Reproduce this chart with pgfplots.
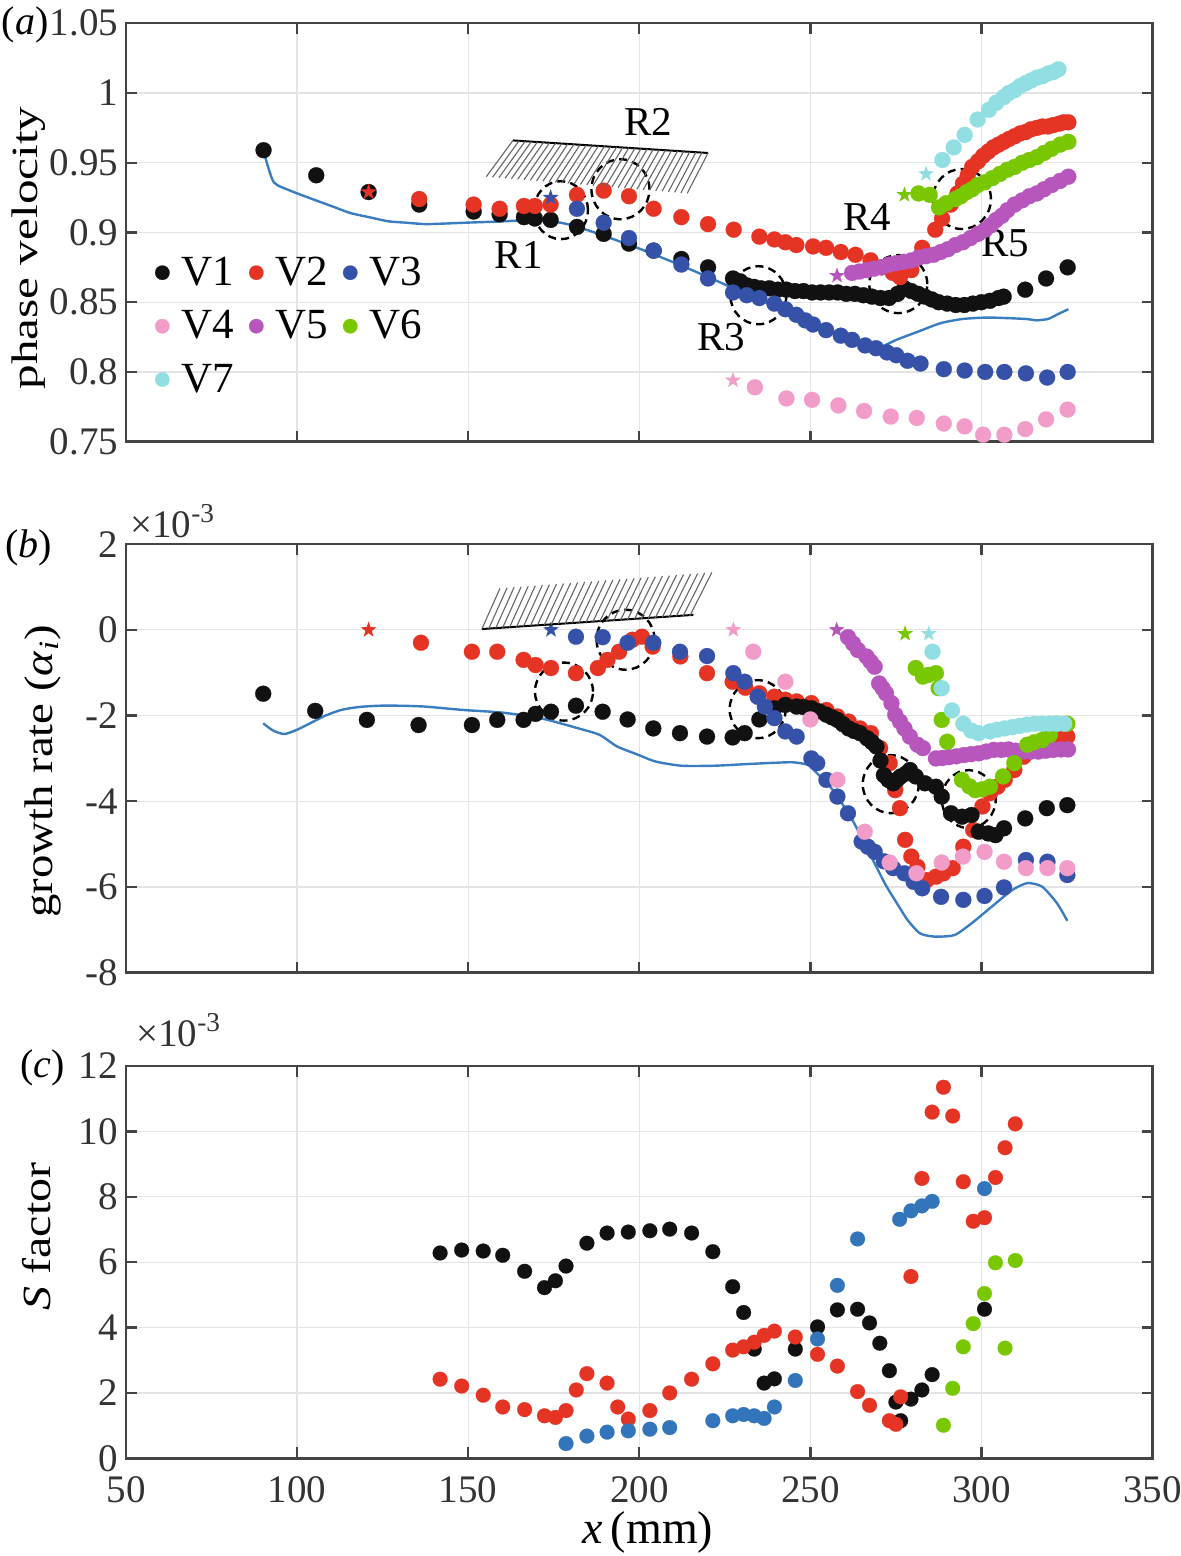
\documentclass[border=0pt]{standalone}
\usepackage{pgfplots}
\pgfplotsset{compat=1.18}
\usepackage{graphicx}
\usepackage{fontspec}
\setmainfont{Liberation Serif}
\usetikzlibrary{calc}

\definecolor{cA}{HTML}{111111}
\definecolor{cB}{HTML}{E63424}
\definecolor{cC}{HTML}{3552A8}
\definecolor{cD}{HTML}{F29CC9}
\definecolor{cE}{HTML}{B757BE}
\definecolor{cF}{HTML}{79C700}
\definecolor{cG}{HTML}{92DFE3}
\definecolor{cL}{HTML}{3A7DC0}
\definecolor{cS}{HTML}{3375BA}
\definecolor{gridc}{HTML}{E4E4E4}
\definecolor{axc}{HTML}{444444}
\definecolor{tickc}{HTML}{333333}

\pgfdeclareplotmark{fstar}{%
 \pgfpathmoveto{\pgfpointpolar{90}{\pgfplotmarksize}}%
 \pgfpathlineto{\pgfpointpolar{126}{0.4\pgfplotmarksize}}%
 \pgfpathlineto{\pgfpointpolar{162}{\pgfplotmarksize}}%
 \pgfpathlineto{\pgfpointpolar{198}{0.4\pgfplotmarksize}}%
 \pgfpathlineto{\pgfpointpolar{234}{\pgfplotmarksize}}%
 \pgfpathlineto{\pgfpointpolar{270}{0.4\pgfplotmarksize}}%
 \pgfpathlineto{\pgfpointpolar{306}{\pgfplotmarksize}}%
 \pgfpathlineto{\pgfpointpolar{342}{0.4\pgfplotmarksize}}%
 \pgfpathlineto{\pgfpointpolar{18}{\pgfplotmarksize}}%
 \pgfpathlineto{\pgfpointpolar{54}{0.4\pgfplotmarksize}}%
 \pgfpathclose\pgfusepathqfill}

\tikzset{
 circ/.style={dash pattern=on 4pt off 2.6pt, line width=1.2pt, black},
 rlab/.style={font=\fontsize{20.5}{24}\selectfont, black},
 plab/.style={font=\fontsize{20}{24}\selectfont, black, anchor=east, inner sep=0pt},
 expo/.style={font=\fontsize{19.5}{22}\selectfont, text=tickc, anchor=base west, inner sep=0pt},
}

\pgfplotsset{
 base/.style={
  scale only axis, width=513.25pt,
  xmin=50, xmax=350, xtick={50,100,150,200,250,300,350},
  grid=major, major grid style={line width=0.6pt, draw=gridc},
  axis line style={line width=1.2pt, draw=axc},
  tick align=inside, major tick length=5.5pt,
  tick style={line width=1.2pt, draw=axc},
  tick label style={font=\fontsize{19.5}{22}\selectfont, text=tickc},
  yticklabel style={inner xsep=3.8pt, inner ysep=0.5pt},
  xticklabel style={inner ysep=0.5pt, yshift=-8.5pt},
  clip=false,
 },
 dots/.style={only marks, mark=*, mark size=#1, mark options={solid, line width=0.1pt}},
 star/.style={only marks, mark=fstar, mark size=4.2pt, forget plot},
}

\begin{document}
\begin{tikzpicture}
\useasboundingbox (0,0) rectangle (590.5pt,778pt);

% ---------------- (a) ----------------
\begin{axis}[base, at={(63pt,557.15pt)}, anchor=south west, height=209.2pt,
  ymin=0.75, ymax=1.05,
  ytick={0.75,0.8,0.85,0.9,0.95,1,1.05},
  yticklabels={0.75,0.8,0.85,0.9,0.95,1,1.05},
  xticklabels={,,,,,,},
  ylabel={\scalebox{1.33}[1]{phase velocity}},
  ylabel style={font=\fontsize{18.5}{22}\selectfont, at={(axis description cs:-0.0867,0.463)}, anchor=base},
  legend columns=3,
  legend style={at={(axis description cs:0.028,0.452)}, anchor=north west, draw=none, fill=none,
    inner sep=0pt, font=\fontsize{21.5}{24}\selectfont, row sep=7pt,
    /tikz/every odd column/.append style={column sep=4pt},
    /tikz/every even column/.append style={column sep=5.5pt}},
  legend image code/.code={\draw[mark size=3.6pt] plot coordinates {(0pt,0pt)};},
]
\addplot[cL, line width=1.2pt, smooth, tension=0.4, forget plot] coordinates {
(90.7,0.954)(93.2,0.936)(98,0.930)(104.4,0.924)(110,0.919)(115.5,0.914)(121,0.911)(126.7,0.908)(132,0.907)(137.9,0.906)(149.1,0.907)(160.3,0.908)(169.2,0.909)(177,0.907)(182,0.904)(188.1,0.899)(199.4,0.889)(210.6,0.878)(221.1,0.867)(232,0.855)(242.7,0.844)(253,0.832)(264.3,0.820)(268,0.817)(270.8,0.818)(275.1,0.823)(281.6,0.829)(288.1,0.835)(294.6,0.838)(302.2,0.839)(312.9,0.838)(316,0.837)(319.5,0.838)(322,0.841)(325.4,0.845)};
\addplot[dots=4pt, cA] coordinates {
(90.2,0.959)(105.6,0.941)(120.9,0.929)(135.7,0.920)(151.6,0.915)(159.2,0.913)(166.3,0.911)(169.5,0.910)(174.1,0.909)(181.8,0.904)(189.6,0.899)(197.0,0.892)(204.2,0.887)(212.3,0.881)(220.1,0.875)(227.4,0.867)(229.5,0.865)(231.5,0.862)(233.5,0.861)(235.5,0.860)(238,0.860)(240.5,0.859)(243,0.859)(245.5,0.858)(248,0.858)(250.5,0.857)(253,0.857)(255.5,0.857)(258,0.857)(260.5,0.856)(263,0.856)(265.5,0.855)(268,0.854)(270.5,0.853)(273,0.853)(275.5,0.856)(277.5,0.860)(279.5,0.858)(281.5,0.856)(283.5,0.854)(285.5,0.852)(287.5,0.850)(290,0.849)(292.5,0.848)(295,0.848)(297.5,0.849)(300,0.850)(302.5,0.851)(305,0.853)(306.5,0.854)(312.8,0.859)(318.9,0.867)(325.2,0.875)};
\addlegendentry{V1}
\addplot[dots=4pt, cB] coordinates {
(135.7,0.924)(151.6,0.920)(159.2,0.917)(166.3,0.919)(169.5,0.919)(174.1,0.920)(181.8,0.927)(189.6,0.930)(197.0,0.926)(204.2,0.917)(212.3,0.911)(220.1,0.906)(227.6,0.902)(235.1,0.897)(239.5,0.895)(242.7,0.893)(245.9,0.891)(250.8,0.890)(254.6,0.889)(258.9,0.886)(263.2,0.884)(267.6,0.880)(270.8,0.875)(274.1,0.871)(276.2,0.868)(279.5,0.873)(282.7,0.889)(286.5,0.902)(288.5,0.910)(291,0.920)(293,0.928)(294.6,0.935)(296,0.941)(297.3,0.947)(299,0.951)(300.5,0.955)(302,0.958)(303.5,0.961)(305,0.963)(306.5,0.965)(308,0.967)(309.7,0.969)(311.3,0.971)(312.9,0.972)(314.5,0.974)(316.2,0.975)(317.8,0.976)(319.5,0.976)(321,0.977)(322.7,0.978)(324,0.979)(325.4,0.979)};
\addlegendentry{V2}
\addplot[dots=4pt, cC] coordinates {
(181.8,0.917)(189.6,0.907)(197.0,0.896)(204.2,0.887)(212.3,0.877)(220.1,0.867)(227.4,0.857)(231.4,0.855)(235.1,0.853)(239.5,0.849)(242.7,0.845)(245.9,0.841)(248.5,0.837)(250.8,0.834)(254.6,0.830)(258.9,0.826)(262.2,0.823)(266,0.819)(269.2,0.817)(272.4,0.814)(275.1,0.812)(278.4,0.808)(282.2,0.806)(289,0.802)(295.1,0.801)(301.1,0.800)(306.7,0.800)(313,0.799)(319.2,0.796)(325.2,0.800)};
\addlegendentry{V3}
\addplot[dots=4pt, cD] coordinates {
(233.8,0.789)(243,0.781)(250.5,0.780)(258.2,0.776)(265.7,0.772)(273.5,0.768)(281.1,0.767)(289,0.763)(295.1,0.761)(300.5,0.755)(306.7,0.755)(312.8,0.759)(318.9,0.766)(325.2,0.773)};
\addlegendentry{V4}
\addplot[dots=4pt, cE] coordinates {
(262.2,0.871)(264.3,0.872)(266.5,0.873)(268.6,0.874)(270.8,0.875)(273,0.877)(275.1,0.878)(277.3,0.879)(279.5,0.880)(281.6,0.882)(283.8,0.883)(286,0.884)(288.1,0.886)(290.2,0.888)(292.4,0.891)(294.6,0.893)(296.8,0.896)(299,0.899)(301.1,0.902)(302.7,0.905)(304.3,0.909)(306,0.912)(307.6,0.916)(309.7,0.920)(311.9,0.923)(314,0.926)(316.2,0.928)(318.3,0.931)(320.5,0.934)(323,0.937)(325.4,0.940)};
\addlegendentry{V5}
\addplot[dots=4pt, cF] coordinates {
(281.6,0.928)(284.9,0.927)(287.6,0.918)(289.7,0.921)(292.4,0.924)(294,0.926)(295.7,0.929)(297.3,0.931)(298.9,0.934)(301,0.936)(303.2,0.939)(305.4,0.942)(307.6,0.945)(309.7,0.947)(311.9,0.950)(314,0.952)(316.2,0.954)(318.3,0.957)(320.5,0.960)(323,0.963)(325.4,0.965)};
\addlegendentry{V6}
\addplot[dots=4pt, cG] coordinates {
(288.6,0.952)(291.9,0.961)(295.1,0.970)(298.9,0.981)(302.2,0.988)(304.3,0.993)(306.5,0.997)(308,1.000)(309.7,1.002)(311.3,1.005)(312.9,1.007)(314.5,1.009)(316.2,1.011)(317.8,1.012)(319.5,1.014)(321,1.015)(322.5,1.017)};
\addlegendentry{V7}
\addplot[star, cB] coordinates {(120.9,0.929)};
\addplot[star, cC] coordinates {(174.1,0.925)};
\addplot[star, cD] coordinates {(227.4,0.794)};
\addplot[star, cE] coordinates {(257.8,0.869)};
\addplot[star, cF] coordinates {(277.5,0.927)};
\addplot[star, cG] coordinates {(283.8,0.942)};
\coordinate (hA) at (axis cs:163.1,0.966);
\coordinate (hB) at (axis cs:220.1,0.957);
\coordinate (hC) at (axis cs:155.3,0.940);
\coordinate (hD) at (axis cs:214.0,0.928);
\draw[circ] (axis cs:177.1,0.916) ellipse[x radius=13.5pt, y radius=14.5pt];
\draw[circ] (axis cs:194.5,0.931) ellipse[x radius=14.5pt, y radius=15pt];
\draw[circ] (axis cs:234.8,0.855) ellipse[x radius=14pt, y radius=14.5pt];
\draw[circ] (axis cs:275.7,0.863) ellipse[x radius=14.5pt, y radius=14.5pt];
\draw[circ] (axis cs:294.3,0.924) ellipse[x radius=14.5pt, y radius=15pt];
\node[rlab] at (axis cs:164.8,0.884) {R1};
\node[rlab] at (axis cs:202.6,0.979) {R2};
\node[rlab] at (axis cs:224.0,0.825) {R3};
\node[rlab] at (axis cs:266.6,0.911) {R4};
\node[rlab] at (axis cs:307.0,0.892) {R5};
\node[plab] at (axis description cs:-0.075,0.996) {(\textit{a})};
\end{axis}
\draw[line width=1pt, black] (hA) -- (hB);
\foreach \i in {0,...,32} \draw[line width=0.55pt, black!60] ($(hC)!{\i/32}!(hD)$) -- ($(hA)!{\i/32}!(hB)$);

% ---------------- (b) ----------------
\begin{axis}[base, at={(63pt,291.65pt)}, anchor=south west, height=214.25pt,
  ymin=-8, ymax=2,
  ytick={-8,-6,-4,-2,0,2},
  yticklabels={-8,-6,-4,-2,0,2},
  xticklabels={,,,,,,},
  ylabel={\scalebox{1.17}[1]{growth rate (\textit{α}\textsubscript{\textit{i}})}},
  ylabel style={font=\fontsize{20}{24}\selectfont, at={(axis description cs:-0.072,0.47)}, anchor=base},
]
\addplot[cL, line width=1.2pt, smooth, tension=0.4, forget plot] coordinates {
(90.1,-2.18)(93,-2.35)(96.3,-2.43)(100,-2.33)(103.8,-2.18)(108,-2.01)(112.8,-1.87)(118,-1.80)(124,-1.77)(130,-1.77)(137.4,-1.79)(148.7,-1.87)(159.9,-1.93)(171.1,-2.06)(182.3,-2.30)(188.4,-2.45)(193.5,-2.72)(199.2,-2.90)(204.7,-3.07)(212.3,-3.17)(222,-3.17)(231.8,-3.13)(240,-3.10)(244.9,-3.09)(249.2,-3.15)(252,-3.35)(255.8,-3.66)(259,-4.02)(262.3,-4.44)(265.5,-4.92)(268.8,-5.45)(272,-5.95)(275.3,-6.38)(278.5,-6.78)(281.8,-7.07)(284.5,-7.14)(287.3,-7.16)(292.2,-7.12)(297.1,-6.85)(303.6,-6.42)(309,-6.07)(313.4,-5.91)(317.7,-5.99)(322.1,-6.38)(325.1,-6.79)};
\addplot[dots=4pt, cB] coordinates {
(136.2,-0.30)(151.1,-0.51)(158.5,-0.51)(166.2,-0.70)(169.7,-0.82)(174.2,-0.89)(181.5,-1.01)(187.9,-0.89)(190.7,-0.70)(194.1,-0.51)(198,-0.23)(200.8,-0.16)(203.9,-0.39)(212,-0.62)(219.8,-1.01)(227.3,-1.21)(231,-1.35)(235.1,-1.48)(239.5,-1.56)(242.7,-1.63)(246,-1.67)(250.3,-1.71)(254.7,-1.87)(257.9,-2.02)(261.2,-2.14)(264.5,-2.30)(267.7,-2.41)(270.4,-2.76)(273.2,-3.11)(274.8,-3.74)(276.2,-4.16)(277.7,-4.90)(279.5,-5.29)(281.3,-5.53)(284,-5.84)(286.7,-5.76)(288.9,-5.68)(291.6,-5.56)(294.7,-5.06)(297.6,-4.67)(300.3,-4.12)(302.5,-3.81)(304.7,-3.66)(306.8,-3.50)(309.6,-3.27)(312.3,-2.96)(315.5,-2.72)(319.3,-2.49)(322.6,-2.49)(325.1,-2.49)};
\addplot[dots=4pt, cA] coordinates {
(90.1,-1.49)(105.3,-1.89)(120.4,-2.10)(135.5,-2.22)(151.1,-2.22)(158.5,-2.10)(166.2,-2.10)(169.7,-1.96)(174.2,-1.91)(181.5,-1.77)(189.3,-1.91)(196.6,-2.09)(204.1,-2.30)(211.9,-2.41)(219.8,-2.49)(227.3,-2.51)(230.8,-2.41)(235.1,-2.09)(239.5,-1.83)(242.7,-1.75)(246,-1.79)(248,-1.80)(250.3,-1.83)(252.5,-1.90)(254.7,-1.98)(256.3,-2.04)(257.9,-2.10)(259.5,-2.20)(261.2,-2.30)(262.8,-2.36)(264.5,-2.41)(266.6,-2.53)(268,-2.62)(269.3,-2.72)(270.5,-3.05)(271.5,-3.39)(272.8,-3.50)(274.2,-3.58)(275.3,-3.50)(276.4,-3.42)(278,-3.35)(279.1,-3.27)(280.8,-3.42)(283.5,-3.58)(286.7,-3.66)(288.4,-3.89)(291.1,-4.28)(294.3,-4.36)(297.1,-4.32)(299.2,-4.71)(302,-4.75)(304.1,-4.79)(306.6,-4.63)(312.8,-4.40)(319.1,-4.16)(325.1,-4.09)};
\addplot[dots=4pt, cC] coordinates {
(181.5,-0.16)(189.3,-0.17)(196.6,-0.30)(204.1,-0.30)(211.9,-0.51)(219.8,-0.61)(227.5,-1.01)(230.8,-1.21)(234.6,-1.56)(236.7,-1.79)(239.5,-2.06)(242.7,-2.37)(246,-2.49)(250.3,-3.00)(252,-3.11)(254.7,-3.50)(257.9,-3.89)(261,-4.28)(265,-4.94)(266.8,-5.06)(268.8,-5.18)(271.5,-5.40)(274.2,-5.56)(277.5,-5.68)(280.2,-5.88)(282.7,-6.03)(288.2,-6.23)(294.7,-6.30)(300.9,-6.21)(306.6,-6.01)(313,-5.37)(319.3,-5.41)(325.1,-5.72)};
\addplot[dots=4pt, cD] coordinates {
(233.3,-0.51)(242.7,-1.21)(250,-2.09)(257.9,-3.50)(265.9,-4.71)(273.2,-5.43)(281,-5.68)(288.4,-5.43)(294.6,-5.29)(300.9,-5.18)(306.6,-5.41)(313,-5.56)(319.3,-5.56)(325.1,-5.56)};
\addplot[dots=4pt, cE] coordinates {
(261,-0.17)(262.5,-0.32)(263.9,-0.47)(266.4,-0.62)(267.6,-0.74)(268.8,-0.86)(270.1,-1.25)(271.1,-1.36)(272.1,-1.48)(273.7,-1.71)(274.8,-1.98)(276.2,-2.14)(277.5,-2.30)(279.1,-2.49)(281.3,-2.68)(282.9,-2.76)(286.7,-3.00)(288.6,-2.99)(290.5,-2.97)(292.7,-2.95)(294.9,-2.92)(297,-2.90)(299.2,-2.88)(301.4,-2.84)(303.6,-2.80)(305.8,-2.80)(307.9,-2.79)(310,-2.82)(312.3,-2.84)(314.5,-2.84)(316.6,-2.84)(318.8,-2.82)(321,-2.80)(323.2,-2.79)(325.3,-2.79)};
\addplot[dots=4pt, cF] coordinates {
(280.8,-0.89)(282.9,-1.09)(284.5,-1.05)(286.7,-1.01)(287.5,-1.36)(288.4,-2.10)(290,-2.61)(294.3,-3.50)(296.5,-3.65)(298.2,-3.74)(300.3,-3.72)(302.5,-3.66)(306.3,-3.42)(309.6,-3.11)(313.4,-2.68)(315.5,-2.62)(317.7,-2.57)(320,-2.45)(322,-2.19)(325.1,-2.19)};
\addplot[dots=4pt, cG] coordinates {
(285.7,-0.51)(288.4,-1.36)(291.4,-1.88)(294.7,-2.19)(297,-2.35)(299.2,-2.41)(302.5,-2.37)(304.6,-2.33)(306.8,-2.30)(309,-2.27)(311.2,-2.24)(313.3,-2.21)(315.5,-2.19)(317.7,-2.19)(319.9,-2.19)(322,-2.19)(324.2,-2.19)};
\addplot[star, cB] coordinates {(120.9,0)};
\addplot[star, cC] coordinates {(174.2,0)};
\addplot[star, cD] coordinates {(227.5,0)};
\addplot[star, cE] coordinates {(257.7,0)};
\addplot[star, cF] coordinates {(277.7,-0.09)};
\addplot[star, cG] coordinates {(284.6,-0.09)};
\coordinate (gE) at (axis cs:154.0,0.02);
\coordinate (gF) at (axis cs:215.8,0.35);
\coordinate (gE2) at (axis cs:154.0,0.02);
\coordinate (gF2) at (axis cs:214.8,0.33);
\coordinate (gG) at (axis cs:159.3,0.97);
\coordinate (gH) at (axis cs:221.2,1.34);
\draw[circ] (axis cs:178.0,-1.44) ellipse[x radius=14.5pt, y radius=14.5pt];
\draw[circ] (axis cs:196.0,-0.23) ellipse[x radius=14.5pt, y radius=15pt];
\draw[circ] (axis cs:234.6,-1.85) ellipse[x radius=14pt, y radius=14.5pt];
\draw[circ] (axis cs:273.5,-3.60) ellipse[x radius=14pt, y radius=14.5pt];
\draw[circ] (axis cs:296.3,-3.95) ellipse[x radius=13.5pt, y radius=14.5pt];
\node[plab] at (axis description cs:-0.072,0.991) {(\textit{b})};
\node[expo] at (axis description cs:0,1) [xshift=2pt, yshift=3.5pt] {×10\textsuperscript{-3}};
\end{axis}
\draw[line width=1pt, black] (gE) -- (gF);
\foreach \i in {0,...,30} \draw[line width=0.55pt, black!60] ($(gE2)!{\i/30}!(gF2)$) -- ($(gG)!{\i/30}!(gH)$);

% ---------------- (c) ----------------
\begin{axis}[base, at={(63pt,48.85pt)}, anchor=south west, height=196.15pt,
  ymin=0, ymax=12,
  ytick={0,2,4,6,8,10,12},
  yticklabels={0,2,4,6,8,10,12},
  xticklabels={50,100,150,200,250,300,350},
  ylabel={\scalebox{1.2}[1]{\textit{S} factor}},
  ylabel style={font=\fontsize{20}{24}\selectfont, at={(axis description cs:-0.074,0.565)}, anchor=base},
  xlabel={\textit{x}\,(mm)},
  xlabel style={font=\fontsize{23}{26}\selectfont, inner sep=0.5pt, at={(axis description cs:0.5085,-0.188)}, anchor=center},
]
\addplot[dots=3.7pt, cA] coordinates {
(141.8,6.28)(148.1,6.37)(154.4,6.34)(160.1,6.21)(166.5,5.72)(172.3,5.22)(175.5,5.43)(178.6,5.88)(184.7,6.58)(190.6,6.89)(196.8,6.92)(203.1,6.96)(208.9,7.01)(215.3,6.89)(221.5,6.32)(227.3,5.25)(230.5,4.46)(233.6,3.34)(236.5,2.30)(239.5,2.43)(245.6,3.34)(252.1,4.02)(257.9,4.54)(263.8,4.56)(267.3,4.14)(270.3,3.52)(273.1,2.68)(275,1.72)(276.4,1.15)(279.4,1.81)(282.6,2.09)(285.6,2.56)(300.9,4.56)};
\addplot[dots=3.7pt, cB] coordinates {
(141.8,2.42)(148.1,2.21)(154.4,1.93)(160.1,1.57)(166.5,1.49)(172.3,1.30)(175.5,1.25)(178.6,1.46)(181.6,2.09)(184.7,2.59)(190.6,2.30)(193.7,1.57)(196.8,1.20)(203.1,1.46)(208.9,2.00)(215.3,2.42)(221.5,2.89)(227.3,3.31)(230.5,3.41)(233.6,3.55)(236.5,3.76)(239.5,3.89)(245.6,3.71)(252.1,3.18)(257.9,2.82)(263.8,2.04)(267.3,1.62)(273.1,1.15)(275,1.04)(276.4,1.88)(279.4,5.56)(282.6,8.56)(285.6,10.59)(288.9,11.35)(291.6,10.47)(294.7,8.46)(297.6,7.25)(300.9,7.36)(304.1,8.59)(306.9,9.50)(309.9,10.23)};
\addplot[dots=3.7pt, cS] coordinates {
(178.6,0.45)(184.7,0.68)(190.6,0.80)(196.8,0.84)(203.1,0.89)(208.9,0.94)(221.5,1.15)(227.3,1.30)(230.5,1.34)(233.6,1.30)(236.5,1.22)(239.5,1.57)(245.6,2.38)(252.1,3.65)(257.9,5.29)(263.8,6.71)(276.1,7.31)(279.4,7.57)(282.6,7.72)(285.6,7.86)(300.9,8.25)};
\addplot[dots=3.7pt, cF] coordinates {
(288.9,1.01)(291.6,2.14)(294.7,3.41)(297.6,4.12)(300.9,5.04)(304.1,5.98)(306.9,3.37)(309.9,6.05)};
\node[plab] at (axis description cs:-0.059,0.995) {(\textit{c})};
\node[expo] at (axis description cs:0,1) [xshift=5pt, yshift=9.5pt] {×10\textsuperscript{-3}};
\end{axis}
\end{tikzpicture}
\end{document}
